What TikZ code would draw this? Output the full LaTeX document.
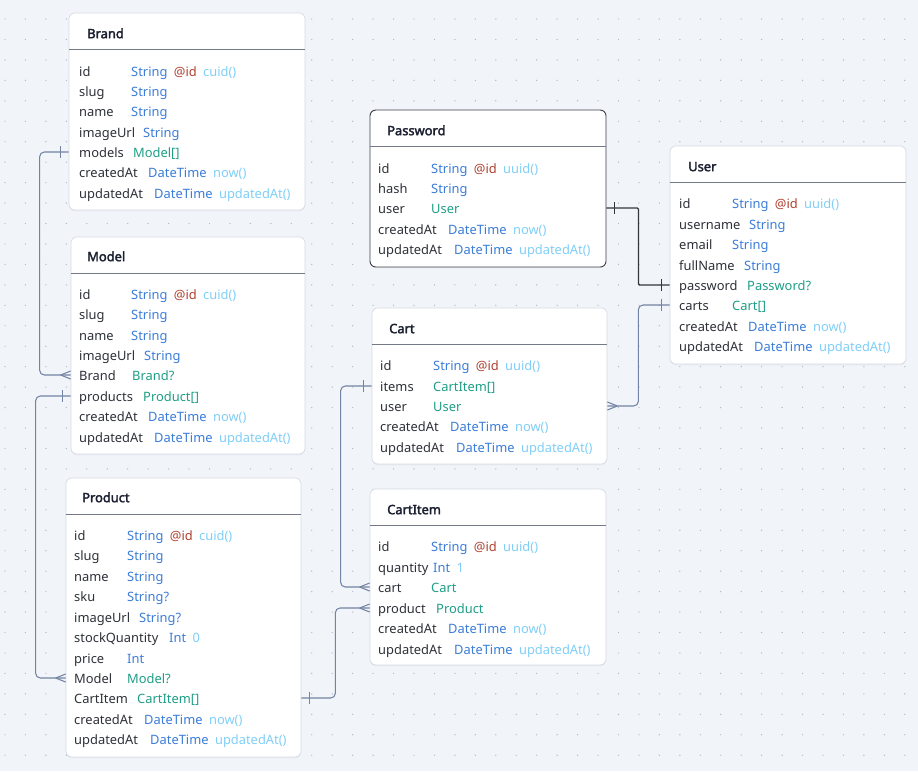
\documentclass[tikz,border=0pt]{standalone}
\usepackage{fontspec}
\setmainfont{Noto Sans}
\newfontfamily\ttlfont{Noto Sans}[FakeBold=2.5]
\usetikzlibrary{fit,calc,shadows}

\definecolor{bgc}{HTML}{F1F4F8}
\definecolor{dotc}{HTML}{B4BAC4}
\definecolor{edgec}{HTML}{D6DBE3}
\definecolor{selc}{HTML}{3C4049}
\definecolor{hdrc}{HTML}{737A86}
\definecolor{ttlc}{HTML}{1B2030}
\definecolor{fldc}{HTML}{2E3138}
\definecolor{tyc}{HTML}{3B7DD8}
\definecolor{relc}{HTML}{1E9E86}
\definecolor{attc}{HTML}{B0402F}
\definecolor{dflc}{HTML}{80CFF8}
\definecolor{connc}{HTML}{7283A3}
\definecolor{connsel}{HTML}{33363C}

\newcommand{\erfont}{\fontsize{11pt}{13pt}\selectfont}
\newcommand{\ty}[1]{\textcolor{tyc}{#1}}
\newcommand{\rl}[1]{\textcolor{relc}{#1}}
\newcommand{\att}[1]{\textcolor{attc}{#1}}
\newcommand{\dfl}[1]{\textcolor{dflc}{#1}}
\newcommand{\gp}{\hspace{5.5pt}}
% one field row: node name, y, name x, name, type x, type
\newcommand{\fld}[6]{%
  \node[fname] (#1) at (#3,#2) {#4};
  \node[ftype] at (#5,#2) {#6};}

\tikzset{
  tbl/.style={draw=edgec, fill=white, rounded corners=5pt, inner sep=0pt, line width=0.6pt,
    drop shadow={opacity=0.07, shadow xshift=0pt, shadow yshift=-1.2pt}},
  sel/.style={draw=selc, line width=0.8pt},
  hdr/.style={draw=hdrc, line width=1pt},
  ttl/.style={anchor=west, inner sep=0pt, font=\ttlfont\erfont, text=ttlc, text height=2ex, text depth=.35ex},
  fname/.style={anchor=west, inner sep=0pt, font=\erfont, text=fldc, text height=2ex, text depth=.35ex},
  ftype/.style={fname},
  rel/.style={draw=connc, line width=0.9pt, rounded corners=4pt},
  relsel/.style={draw=connsel, line width=1.1pt, rounded corners=1pt},
  one/.pic={\draw (-8,-6) -- (-8,6);},
  crow/.pic={\draw (-10,0) -- (0,4) (-10,0) -- (0,-4);},
}

\begin{document}
\begin{tikzpicture}[x=0.03cm, y=-0.03cm]
  \useasboundingbox[fill=bgc] (0,0) rectangle (918,771);
  \foreach \gx in {5,25.45,...,918}
    \foreach \gy in {19,39.45,...,771}
      \fill[dotc] (\gx,\gy) circle (0.6pt);

  % tables
  \node[tbl, fit={(69,13) (305,210)}] (brand) {};
  \node[tbl, fit={(71,237) (305,454)}] (model) {};
  \node[tbl, fit={(66,478) (301,757)}] (product) {};
  \node[tbl, sel, fit={(370,110) (606,267)}] (password) {};
  \node[tbl, fit={(670,146) (906,364)}] (user) {};
  \node[tbl, fit={(372,308) (607,464)}] (cart) {};
  \node[tbl, fit={(370,489) (606,665)}] (cartitem) {};

  \foreach \t in {brand,model,product,password,user,cart,cartitem}
    \draw[hdr] ($(\t.north west)+(0,37)$) -- ($(\t.north east)+(0,37)$);

  % Brand
  \node[ttl] at (87,33) {Brand};
  \fld{brand-id}{71}{79}{id}{131}{\ty{String}\gp\att{@id}\gp\dfl{cuid()}}
  \fld{brand-slug}{91}{79}{slug}{131}{\ty{String}}
  \fld{brand-name}{111}{79}{name}{131}{\ty{String}}
  \fld{brand-imageUrl}{132}{79}{imageUrl}{143}{\ty{String}}
  \fld{brand-models}{152}{79}{models}{133}{\rl{Model[]}}
  \fld{brand-createdAt}{172}{79}{createdAt}{148}{\ty{DateTime}\gp\dfl{now()}}
  \fld{brand-updatedAt}{193}{79}{updatedAt}{154}{\ty{DateTime}\gp\dfl{updatedAt()}}

  % Model
  \node[ttl] at (87,256) {Model};
  \fld{model-id}{294}{79}{id}{131}{\ty{String}\gp\att{@id}\gp\dfl{cuid()}}
  \fld{model-slug}{314}{79}{slug}{131}{\ty{String}}
  \fld{model-name}{335}{79}{name}{131}{\ty{String}}
  \fld{model-imageUrl}{355}{79}{imageUrl}{144}{\ty{String}}
  \fld{model-Brand}{375}{79}{Brand}{132}{\rl{Brand?}}
  \fld{model-products}{396}{79}{products}{143}{\rl{Product[]}}
  \fld{model-createdAt}{416}{79}{createdAt}{148}{\ty{DateTime}\gp\dfl{now()}}
  \fld{model-updatedAt}{437}{79}{updatedAt}{154}{\ty{DateTime}\gp\dfl{updatedAt()}}

  % Product
  \node[ttl] at (82,497) {Product};
  \fld{product-id}{535}{74}{id}{127}{\ty{String}\gp\att{@id}\gp\dfl{cuid()}}
  \fld{product-slug}{555}{74}{slug}{127}{\ty{String}}
  \fld{product-name}{576}{74}{name}{127}{\ty{String}}
  \fld{product-sku}{596}{74}{sku}{127}{\ty{String?}}
  \fld{product-imageUrl}{617}{74}{imageUrl}{139}{\ty{String?}}
  \fld{product-stockQuantity}{637}{74}{stockQuantity}{169}{\ty{Int}\gp\dfl{0}}
  \fld{product-price}{658}{74}{price}{127}{\ty{Int}}
  \fld{product-Model}{678}{74}{Model}{127}{\rl{Model?}}
  \fld{product-CartItem}{698}{74}{CartItem}{137}{\rl{CartItem[]}}
  \fld{product-createdAt}{719}{74}{createdAt}{144}{\ty{DateTime}\gp\dfl{now()}}
  \fld{product-updatedAt}{739}{74}{updatedAt}{150}{\ty{DateTime}\gp\dfl{updatedAt()}}

  % Password
  \node[ttl] at (387,130) {Password};
  \fld{password-id}{168}{378}{id}{431}{\ty{String}\gp\att{@id}\gp\dfl{uuid()}}
  \fld{password-hash}{188}{378}{hash}{431}{\ty{String}}
  \fld{password-user}{208}{378}{user}{431}{\rl{User}}
  \fld{password-createdAt}{229}{378}{createdAt}{448}{\ty{DateTime}\gp\dfl{now()}}
  \fld{password-updatedAt}{249}{378}{updatedAt}{454}{\ty{DateTime}\gp\dfl{updatedAt()}}

  % User
  \node[ttl] at (688,166) {User};
  \fld{user-id}{203}{679}{id}{732}{\ty{String}\gp\att{@id}\gp\dfl{uuid()}}
  \fld{user-username}{224}{679}{username}{749}{\ty{String}}
  \fld{user-email}{244}{679}{email}{732}{\ty{String}}
  \fld{user-fullName}{265}{679}{fullName}{744}{\ty{String}}
  \fld{user-password}{285}{679}{password}{747}{\rl{Password?}}
  \fld{user-carts}{305}{679}{carts}{732}{\rl{Cart[]}}
  \fld{user-createdAt}{326}{679}{createdAt}{748}{\ty{DateTime}\gp\dfl{now()}}
  \fld{user-updatedAt}{346}{679}{updatedAt}{754}{\ty{DateTime}\gp\dfl{updatedAt()}}

  % Cart
  \node[ttl] at (389,328) {Cart};
  \fld{cart-id}{365}{380}{id}{433}{\ty{String}\gp\att{@id}\gp\dfl{uuid()}}
  \fld{cart-items}{386}{380}{items}{433}{\rl{CartItem[]}}
  \fld{cart-user}{406}{380}{user}{433}{\rl{User}}
  \fld{cart-createdAt}{426}{380}{createdAt}{450}{\ty{DateTime}\gp\dfl{now()}}
  \fld{cart-updatedAt}{447}{380}{updatedAt}{456}{\ty{DateTime}\gp\dfl{updatedAt()}}

  % CartItem
  \node[ttl] at (387,509) {CartItem};
  \fld{cartitem-id}{546}{378}{id}{431}{\ty{String}\gp\att{@id}\gp\dfl{uuid()}}
  \fld{cartitem-quantity}{567}{378}{quantity}{433}{\ty{Int}\gp\dfl{1}}
  \fld{cartitem-cart}{587}{378}{cart}{431}{\rl{Cart}}
  \fld{cartitem-product}{608}{378}{product}{436}{\rl{Product}}
  \fld{cartitem-createdAt}{628}{378}{createdAt}{448}{\ty{DateTime}\gp\dfl{now()}}
  \fld{cartitem-updatedAt}{649}{378}{updatedAt}{454}{\ty{DateTime}\gp\dfl{updatedAt()}}

  % relations
  \draw[rel] (brand.west |- brand-models) -- ++(-29,0) |- (model.west |- model-Brand);
  \pic[rel] at (brand.west |- brand-models) {one};
  \pic[rel] at (model.west |- model-Brand) {crow};

  \draw[rel] (model.west |- model-products) -- ++(-35,0) |- (product.west |- product-Model);
  \pic[rel] at (model.west |- model-products) {one};
  \pic[rel] at (product.west |- product-Model) {crow};

  \draw[rel] (cart.west |- cart-items) -- ++(-31,0) |- (cartitem.west |- cartitem-cart);
  \pic[rel] at (cart.west |- cart-items) {one};
  \pic[rel] at (cartitem.west |- cartitem-cart) {crow};

  \draw[rel] (product.east |- product-CartItem) -- ++(34,0) |- (cartitem.west |- cartitem-product);
  \pic[rel, xscale=-1] at (product.east |- product-CartItem) {one};
  \pic[rel] at (cartitem.west |- cartitem-product) {crow};

  \draw[rel] (cart.east |- cart-user) -- ++(31,0) |- (user.west |- user-carts);
  \pic[rel, xscale=-1] at (cart.east |- cart-user) {crow};
  \pic[rel] at (user.west |- user-carts) {one};

  \draw[relsel] (password.east |- password-user) -- ++(32,0) |- (user.west |- user-password);
  \pic[relsel, xscale=-1] at (password.east |- password-user) {one};
  \pic[relsel] at (user.west |- user-password) {one};
\end{tikzpicture}
\end{document}
